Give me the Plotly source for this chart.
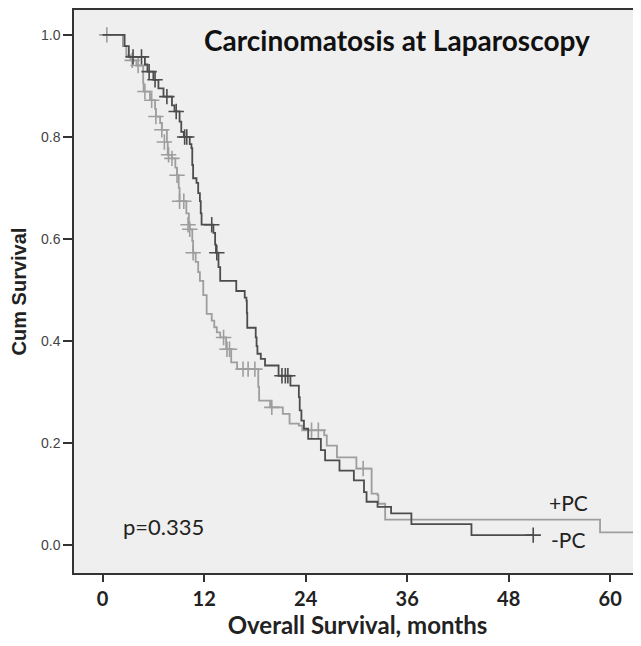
import plotly.graph_objects as go

# -PC (darker curve): step times (months) and survival after each step
neg_t = [0, 2.6, 3.1, 5.0, 5.3, 6.0, 6.6, 7.2, 8.2, 8.5, 9.1, 9.3, 9.6, 10.3, 10.5, 10.6,
         10.7, 11.1, 11.3, 11.5, 11.6, 11.7, 13.1, 13.3, 13.4, 13.7, 13.9, 15.8, 16.8,
         17.0, 17.05, 17.1, 18.1, 18.2, 18.3, 18.7, 19.2, 20.8, 22.2, 23.2, 23.3, 23.5,
         23.8, 24.3, 25.8, 26.3, 28.0, 29.7, 30.9, 31.2, 32.5, 34.1, 36.5, 43.6, 50.9]
neg_s = [1.0, 0.978, 0.957, 0.942, 0.928, 0.912, 0.895, 0.879, 0.862, 0.85, 0.83, 0.81, 0.80,
         0.786, 0.778, 0.745, 0.719, 0.71, 0.69, 0.674, 0.65, 0.628, 0.612, 0.589, 0.573,
         0.545, 0.518, 0.498, 0.485, 0.479, 0.455, 0.426, 0.407, 0.39, 0.375, 0.365, 0.352,
         0.332, 0.3125, 0.29, 0.264, 0.244, 0.228, 0.208, 0.186, 0.166, 0.146, 0.127, 0.104,
         0.085, 0.075, 0.062, 0.041, 0.0195, 0.0195]
neg_cens_t = [3.6, 4.6, 5.5, 6.2, 7.6, 8.7, 9.7, 9.95, 12.9, 13.5, 21.2, 21.6, 21.9, 50.9]
neg_cens_s = [0.957, 0.957, 0.928, 0.912, 0.879, 0.85, 0.80, 0.80, 0.628, 0.573, 0.332, 0.332,
              0.332, 0.0195]

# +PC (lighter curve)
pos_t = [0, 2.4, 2.8, 3.3, 4.0, 4.8, 4.85, 5.6, 6.2, 6.3, 6.8, 7.0, 7.6, 7.7, 8.2, 8.6, 8.8,
         9.0, 9.1, 9.9, 10.2, 10.3, 10.6, 10.7, 11.0, 11.3, 11.5, 11.9, 12.3, 12.9, 13.2, 13.5,
         13.9, 14.6, 15.2, 15.9, 18.4, 18.5, 19.8, 21.3, 22.1, 23.2, 23.6, 26.2, 26.5, 27.7,
         30.0, 31.8, 32.5, 32.6, 33.4, 58.8, 66.0]
pos_s = [1.0, 0.978, 0.96, 0.95, 0.94, 0.905, 0.889, 0.872, 0.855, 0.84, 0.827, 0.814, 0.79,
         0.765, 0.758, 0.74, 0.725, 0.70, 0.674, 0.65, 0.628, 0.619, 0.596, 0.573, 0.555,
         0.535, 0.518, 0.49, 0.453, 0.44, 0.427, 0.417, 0.407, 0.384, 0.358, 0.345, 0.31,
         0.283, 0.270, 0.257, 0.238, 0.234, 0.225, 0.215, 0.195, 0.172, 0.150, 0.101, 0.098,
         0.081, 0.050, 0.025, 0.025]
pos_cens_t = [0.5, 3.5, 4.2, 5.0, 5.8, 6.3, 7.0, 7.3, 7.8, 8.2, 8.8, 9.1, 9.6, 10.1, 10.3, 10.7,
              14.3, 14.7, 15.0, 16.6, 17.2, 18.0, 20.0, 24.7, 25.5, 30.8]
pos_cens_s = [1.0, 0.95, 0.94, 0.889, 0.872, 0.84, 0.814, 0.79, 0.765, 0.758, 0.725, 0.674,
              0.674, 0.628, 0.619, 0.573, 0.407, 0.384, 0.384, 0.345, 0.345, 0.345, 0.270,
              0.225, 0.225, 0.150]

x_ticks = [0, 12, 24, 36, 48, 60]
y_ticks = [0.0, 0.2, 0.4, 0.6, 0.8, 1.0]

DARK = "#4c4c4c"
LIGHT = "#9e9e9e"

fig = go.Figure()
fig.add_trace(go.Scatter(x=pos_t, y=pos_s, mode="lines", line=dict(shape="hv", color=LIGHT, width=1.8),
                         showlegend=False, hoverinfo="skip"))
fig.add_trace(go.Scatter(x=pos_cens_t, y=pos_cens_s, mode="markers",
                         marker=dict(symbol="cross-thin", size=11, line=dict(color=LIGHT, width=1.6)),
                         showlegend=False, hoverinfo="skip"))
fig.add_trace(go.Scatter(x=neg_t, y=neg_s, mode="lines", line=dict(shape="hv", color=DARK, width=1.8),
                         showlegend=False, hoverinfo="skip"))
fig.add_trace(go.Scatter(x=neg_cens_t, y=neg_cens_s, mode="markers",
                         marker=dict(symbol="cross-thin", size=11, line=dict(color=DARK, width=1.6)),
                         showlegend=False, hoverinfo="skip"))

fig.add_annotation(text="Carcinomatosis at Laparoscopy", xref="paper", x=0.569, yref="y", y=0.99,
                   showarrow=False, xanchor="center", yanchor="middle",
                   font=dict(family="Lato", size=28, color="#111111", weight="bold"))
fig.add_annotation(text="p=0.335", x=2.17, y=0.036, showarrow=False, xanchor="left", yanchor="middle",
                   font=dict(family="Lato", size=22, color="#222222"))
fig.add_annotation(text="+PC", x=52.5, y=0.083, showarrow=False, xanchor="left", yanchor="middle",
                   font=dict(family="Lato", size=21, color="#222222"))
fig.add_annotation(text="-PC", x=52.8, y=0.011, showarrow=False, xanchor="left", yanchor="middle",
                   font=dict(family="Lato", size=21, color="#222222"))

# the page body adds an 8px offset, so the figure is laid out 8px up/left of the screen positions
fig.update_layout(
    width=633, height=638,
    margin=dict(l=66, r=0, t=0, b=73),
    paper_bgcolor="white",
    plot_bgcolor="#efefef",
    xaxis=dict(range=[-3.38, 63.64], tickvals=x_ticks, ticktext=[str(v) for v in x_ticks],
               showgrid=False, zeroline=False, showline=True, mirror=True, linecolor="#333333",
               linewidth=1.5, ticks="outside", ticklen=7, tickwidth=1.5, tickcolor="#333333",
               tickfont=dict(family="Lato", size=20, color="#222222", weight="bold"),
               title=dict(text="Overall Survival, months", standoff=4,
                          font=dict(family="Lato", size=24, color="#222222", weight="bold"))),
    yaxis=dict(range=[-0.0547, 1.0488], tickvals=y_ticks, ticktext=[f"{v:.1f}" for v in y_ticks],
               showgrid=False, zeroline=False, showline=True, mirror=False, linecolor="#333333",
               linewidth=1.5, ticks="outside", ticklen=9, tickwidth=1.5, tickcolor="#333333",
               tickfont=dict(family="Liberation Sans", size=14, color="#444444"),
               title=dict(text="Cum Survival", standoff=14,
                          font=dict(family="Liberation Sans", size=20, color="#222222", weight="bold"))),
)

fig.write_html("out.html")
